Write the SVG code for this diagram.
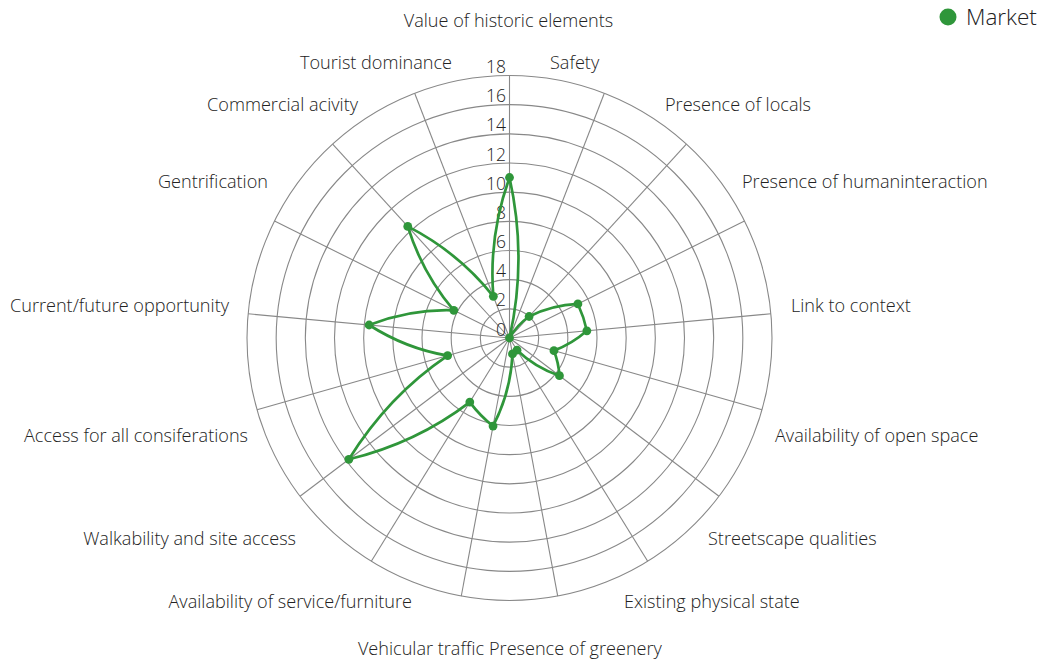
<svg xmlns="http://www.w3.org/2000/svg" width="1045" height="664" viewBox="0 0 1045 664">
<style>
.ring{fill:none;stroke:#888888;stroke-width:1.1}
.spoke{stroke:#888888;stroke-width:1.1}
.lbl{font-family:"Open Sans","Liberation Sans",sans-serif;font-size:18.1px;font-weight:300;fill:#222222}
.tick{font-family:"Open Sans","Liberation Sans",sans-serif;font-size:17.5px;font-weight:300;fill:#222222;text-anchor:end}
.series{fill:none;stroke:#2f963a;stroke-width:2.7;stroke-linejoin:round}
.pt{fill:#2f963a}
</style>
<rect width="1045" height="664" fill="#ffffff"/>
<g id="grid">
<circle class="ring" cx="509.5" cy="338" r="29.17"/>
<circle class="ring" cx="509.5" cy="338" r="58.33"/>
<circle class="ring" cx="509.5" cy="338" r="87.5"/>
<circle class="ring" cx="509.5" cy="338" r="116.67"/>
<circle class="ring" cx="509.5" cy="338" r="145.83"/>
<circle class="ring" cx="509.5" cy="338" r="175"/>
<circle class="ring" cx="509.5" cy="338" r="204.17"/>
<circle class="ring" cx="509.5" cy="338" r="233.33"/>
<circle class="ring" cx="509.5" cy="338" r="262.5"/>
<line class="spoke" x1="509.5" y1="338" x2="509.5" y2="75.5"/>
<line class="spoke" x1="509.5" y1="338" x2="604.33" y2="93.23"/>
<line class="spoke" x1="509.5" y1="338" x2="686.35" y2="144.01"/>
<line class="spoke" x1="509.5" y1="338" x2="744.48" y2="220.99"/>
<line class="spoke" x1="509.5" y1="338" x2="770.88" y2="313.78"/>
<line class="spoke" x1="509.5" y1="338" x2="761.98" y2="409.84"/>
<line class="spoke" x1="509.5" y1="338" x2="718.98" y2="496.19"/>
<line class="spoke" x1="509.5" y1="338" x2="647.69" y2="561.18"/>
<line class="spoke" x1="509.5" y1="338" x2="557.73" y2="596.03"/>
<line class="spoke" x1="509.5" y1="338" x2="461.27" y2="596.03"/>
<line class="spoke" x1="509.5" y1="338" x2="371.31" y2="561.18"/>
<line class="spoke" x1="509.5" y1="338" x2="300.02" y2="496.19"/>
<line class="spoke" x1="509.5" y1="338" x2="257.02" y2="409.84"/>
<line class="spoke" x1="509.5" y1="338" x2="248.12" y2="313.78"/>
<line class="spoke" x1="509.5" y1="338" x2="274.52" y2="220.99"/>
<line class="spoke" x1="509.5" y1="338" x2="332.65" y2="144.01"/>
<line class="spoke" x1="509.5" y1="338" x2="414.67" y2="93.23"/>
</g>
<g id="ticks">
<text class="tick" x="506" y="335.5">0</text>
<text class="tick" x="506" y="306.3">2</text>
<text class="tick" x="506" y="277.2">4</text>
<text class="tick" x="506" y="248">6</text>
<text class="tick" x="506" y="218.8">8</text>
<text class="tick" x="506" y="189.7">10</text>
<text class="tick" x="506" y="160.5">12</text>
<text class="tick" x="506" y="131.3">14</text>
<text class="tick" x="506" y="102.2">16</text>
<text class="tick" x="506" y="73">18</text>
</g>
<g id="connectors">
<path class="series" d="M509.5,177.5 C521.36,231 521.1,286.67 509.5,338 C514.22,329.71 520.98,322.21 529.1,316.49 C543.57,309.28 560.4,304.78 577.89,303.95 C581.84,312.47 584.89,321.55 586.87,330.83 C576.74,339.77 565.33,346.44 553.94,350.64 C556.9,358.17 558.89,366.71 559.46,375.72 C543.31,370.18 528.67,361.23 517.03,350.16 C515.72,351.54 514.2,352.83 512.48,353.92 C511.41,378.19 504.84,403.24 493.04,426.07 C483.95,418.87 476.15,410.65 469.81,402.11 C435.69,428.21 394.05,448.38 348.86,459.31 C374.93,417.1 409.42,381.5 447.65,355.6 C421.12,351.15 393.89,340.87 369.1,324.99 C397.05,314.11 426.37,309.33 453.82,310.28 C433.83,287.07 417.63,258.24 407.77,226.41 C441.75,243.92 471.18,268.37 493.35,296.32 C490.22,257.69 495.48,216.5 509.5,177.5 Z"/>
</g>
<g id="points">
<circle id="p0" class="pt" cx="509.5" cy="177.5" r="4.4"/>
<circle id="p1" class="pt" cx="509.5" cy="338" r="4.4"/>
<circle id="p2" class="pt" cx="529.1" cy="316.49" r="4.4"/>
<circle id="p3" class="pt" cx="577.89" cy="303.95" r="4.4"/>
<circle id="p4" class="pt" cx="586.87" cy="330.83" r="4.4"/>
<circle id="p5" class="pt" cx="553.94" cy="350.64" r="4.4"/>
<circle id="p6" class="pt" cx="559.46" cy="375.72" r="4.4"/>
<circle id="p7" class="pt" cx="517.03" cy="350.16" r="4.4"/>
<circle id="p8" class="pt" cx="512.48" cy="353.92" r="4.4"/>
<circle id="p9" class="pt" cx="493.04" cy="426.07" r="4.4"/>
<circle id="p10" class="pt" cx="469.81" cy="402.11" r="4.4"/>
<circle id="p11" class="pt" cx="348.86" cy="459.31" r="4.4"/>
<circle id="p12" class="pt" cx="447.65" cy="355.6" r="4.4"/>
<circle id="p13" class="pt" cx="369.1" cy="324.99" r="4.4"/>
<circle id="p14" class="pt" cx="453.82" cy="310.28" r="4.4"/>
<circle id="p15" class="pt" cx="407.77" cy="226.41" r="4.4"/>
<circle id="p16" class="pt" cx="493.35" cy="296.32" r="4.4"/>
</g>
<g id="labels">
<text class="lbl" x="508.5" y="27" text-anchor="middle">Value of historic elements</text>
<text class="lbl" x="550" y="69">Safety</text>
<text class="lbl" x="665" y="111">Presence of locals</text>
<text class="lbl" x="742" y="188">Presence of humaninteraction</text>
<text class="lbl" x="791" y="312">Link to context</text>
<text class="lbl" x="775" y="442">Availability of open space</text>
<text class="lbl" x="708" y="545">Streetscape qualities</text>
<text class="lbl" x="624" y="608">Existing physical state</text>
<text class="lbl" x="489" y="655">Presence of greenery</text>
<text class="lbl" x="484" y="655" text-anchor="end">Vehicular traffic</text>
<text class="lbl" x="412" y="608" text-anchor="end">Availability of service/furniture</text>
<text class="lbl" x="296" y="545" text-anchor="end">Walkability and site access</text>
<text class="lbl" x="248" y="442" text-anchor="end">Access for all consiferations</text>
<text class="lbl" x="229" y="312" text-anchor="end">Current/future opportunity</text>
<text class="lbl" x="268" y="188" text-anchor="end">Gentrification</text>
<text class="lbl" x="358" y="111" text-anchor="end">Commercial acivity</text>
<text class="lbl" x="452" y="69" text-anchor="end">Tourist dominance</text>
</g>
<g id="legend">
<circle class="pt" cx="948" cy="17" r="8.5"/>
<text x="966" y="25" style="font-family:'Open Sans','Liberation Sans',sans-serif;font-size:22.5px;font-weight:300;fill:#222222">Market</text>
</g>
</svg>
